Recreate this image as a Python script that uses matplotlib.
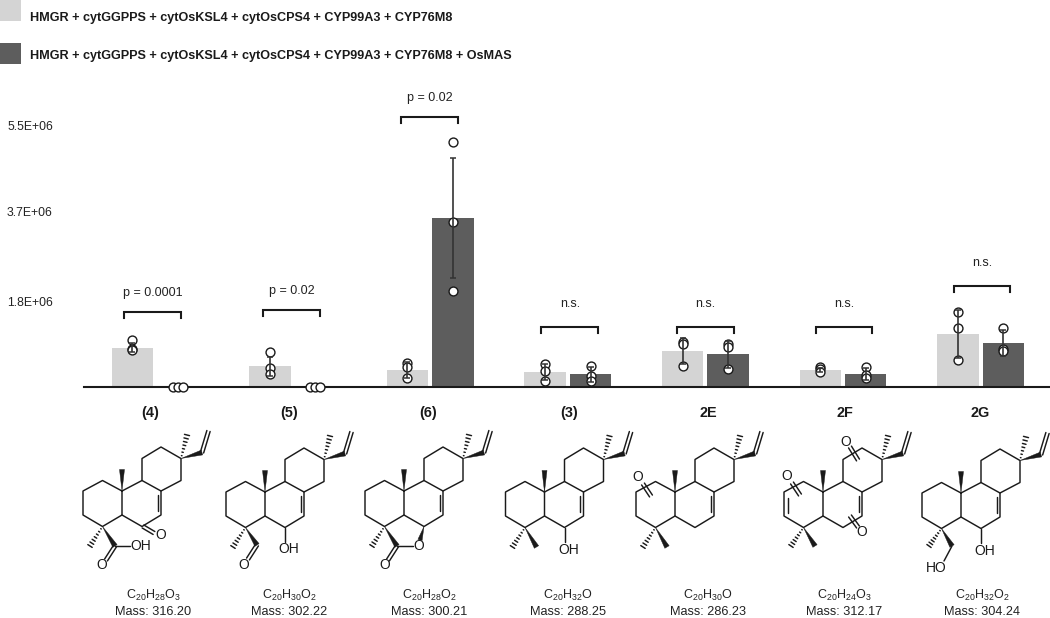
# -*- coding: utf_8 -*-
import numpy as np
import matplotlib
matplotlib.use('Agg')
import matplotlib.pyplot as plt

plt.rcParams['font.family'] = ['Liberation Sans', 'DejaVu Sans']
plt.rcParams['mathtext.fontset'] = 'custom'
plt.rcParams['mathtext.rm'] = 'Liberation Sans'

# data, in units of 1e6
compounds = ['(4)', '(5)', '(6)', '(3)', '2E', '2F', '2G']
ctrl_mean = [0.83, 0.44, 0.36, 0.32, 0.76, 0.36, 1.12]
ctrl_err = [0.10, 0.20, 0.16, 0.17, 0.28, 0.05, 0.50]
ctrl_pts = [[0.99, 0.80, 0.78], [0.74, 0.40, 0.27], [0.51, 0.42, 0.19], [0.48, 0.34, 0.13],
            [0.95, 0.91, 0.44], [0.42, 0.38, 0.32], [1.58, 1.24, 0.57]]
mas_mean = [0.0, 0.0, 3.56, 0.27, 0.69, 0.27, 0.93]
mas_err = [0.0, 0.0, 1.27, 0.16, 0.28, 0.12, 0.27]
mas_pts = [[0, 0, 0], [0, 0, 0], [5.16, 3.47, 2.02], [0.44, 0.23, 0.13],
           [0.91, 0.84, 0.38], [0.42, 0.25, 0.19], [1.24, 0.80, 0.76]]
sig_labels = ['p = 0.0001', 'p = 0.02', 'p = 0.02', 'n.s.', 'n.s.', 'n.s.', 'n.s.']
sig_height = [1.58, 1.62, 5.68, 1.26, 1.26, 1.26, 2.13]
tick_vals = [1.8, 3.7, 5.5]
tick_labels = ['1.8E+06', '3.7E+06', '5.5E+06']
legend_labels = ['HMGR + cytGGPPS + cytOsKSL4 + cytOsCPS4 + CYP99A3 + CYP76M8',
                 'HMGR + cytGGPPS + cytOsKSL4 + cytOsCPS4 + CYP99A3 + CYP76M8 + OsMAS']
formulas = ['C_{20}H_{28}O_{3}', 'C_{20}H_{30}O_{2}', 'C_{20}H_{28}O_{2}', 'C_{20}H_{32}O',
            'C_{20}H_{30}O', 'C_{20}H_{24}O_{3}', 'C_{20}H_{32}O_{2}']
masses = ['316.20', '302.22', '300.21', '288.25', '286.23', '312.17', '304.24']

LIGHT = '#d4d4d4'
DARK = '#5d5d5d'
INK = '#1a1a1a'

fig = plt.figure(figsize=(10.5, 6.18), dpi=100)
ax = fig.add_axes([84 / 1050, (618 - 387) / 618, 966 / 1050, 307 / 618])
ax.patch.set_alpha(0)
ax.set_xlim((84 - 155) / 137.6, (1050 - 155) / 137.6)
ax.set_ylim(0, 307 / 47.5)

x = np.arange(len(compounds))
off = 0.165
ax.bar(x - off, ctrl_mean, 0.302, color=LIGHT, zorder=1)
ax.bar(x + off, mas_mean, 0.302, color=DARK, zorder=1)

spread = [-0.037, 0, 0.037]
for i in range(len(compounds)):
    for j in range(3):
        ax.plot(x[i] - off, ctrl_pts[i][j], 'o', ms=6.4, mfc='white', mec=INK, mew=1,
                zorder=3, clip_on=False)
        dx = spread[j] if mas_mean[i] == 0 else 0
        ax.plot(x[i] + off + dx, mas_pts[i][j], 'o', ms=6.4, mfc='white', mec=INK, mew=1,
                zorder=3, clip_on=False)
    ax.errorbar(x[i] - off, ctrl_mean[i], yerr=ctrl_err[i], color='#333333', lw=1.2, capsize=2.2,
                capthick=1.1, zorder=4)
    if mas_mean[i] > 0:
        ax.errorbar(x[i] + off, mas_mean[i], yerr=mas_err[i], color='#333333', lw=1.2, capsize=2.2,
                    capthick=1.1, zorder=4, clip_on=False)

# significance brackets
sig_shift = [-0.018, -0.008, -0.004, 0.014, 0.0, 0.007, 0.011]
for i in range(len(compounds)):
    cx = x[i] + sig_shift[i]
    h = sig_height[i]
    ax.plot([cx - 0.206, cx - 0.206, cx + 0.206, cx + 0.206], [h - 0.13, h, h, h - 0.13],
            color=INK, lw=1.5, solid_joinstyle='miter', clip_on=False)
    ax.text(cx, h + 0.40 if i < 3 else h + 0.48, sig_labels[i], ha='center', va='center', fontsize=9,
            color='#222222')

for s in ['left', 'right', 'top']:
    ax.spines[s].set_visible(False)
ax.spines['bottom'].set_linewidth(1.5)
ax.spines['bottom'].set_color(INK)
ax.spines['bottom'].set_zorder(2)
ax.set_yticks(tick_vals)
ax.set_yticklabels(tick_labels, fontsize=8.8, color='#222222')
ax.tick_params(axis='y', length=0, pad=22.5)
# compound names sit a little off the group centres
name_shift = [-0.036, -0.025, -0.015, 0.010, 0.018, 0.015, 0.0]
ax.set_xticks(x + np.array(name_shift))
ax.set_xticklabels(compounds, fontsize=10.4, fontweight='bold', color=INK)
ax.tick_params(axis='x', length=0, pad=14)

# pixel overlay for the legend and the structures
pix = fig.add_axes([0, 0, 1, 1])
pix.set_xlim(0, 1050)
pix.set_ylim(618, 0)
pix.axis('off')
pix.patch.set_alpha(0)

pix.fill([0, 21, 21, 0], [0, 0, 21, 21], color=LIGHT, lw=0)
pix.fill([0, 21, 21, 0], [43, 43, 64, 64], color=DARK, lw=0)
pix.text(30, 17.5, legend_labels[0], fontsize=9.08, fontweight='bold', color=INK, va='center')
pix.text(30, 55.5, legend_labels[1], fontsize=9.08, fontweight='bold', color=INK, va='center')


class Mol:
    def __init__(self, ox, oy):
        self.ox, self.oy = ox, oy

    def bond(self, *pts):
        xs = [self.ox + p[0] for p in pts]
        ys = [self.oy + p[1] for p in pts]
        pix.plot(xs, ys, color=INK, lw=1.05, solid_capstyle='round', solid_joinstyle='round')

    def wedge(self, a, b, w=2.5):
        a, b = np.array(a, float), np.array(b, float)
        n = np.array([-(b - a)[1], (b - a)[0]])
        n = n / np.hypot(*n) * w
        pix.fill([self.ox + a[0], self.ox + b[0] + n[0], self.ox + b[0] - n[0]],
                 [self.oy + a[1], self.oy + b[1] + n[1], self.oy + b[1] - n[1]], color=INK, lw=0.3)

    def hash(self, a, b, w=2.6, count=7):
        a, b = np.array(a, float), np.array(b, float)
        n = np.array([-(b - a)[1], (b - a)[0]])
        n = n / np.hypot(*n)
        for t in np.linspace(0.12, 1, count):
            c = a + (b - a) * t
            self.bond(c - n * w * t, c + n * w * t)

    def double(self, a, b, gap=1.7):
        a, b = np.array(a, float), np.array(b, float)
        n = np.array([-(b - a)[1], (b - a)[0]])
        n = n / np.hypot(*n) * gap
        self.bond(a + n, b + n)
        self.bond(a - n, b - n)

    def label(self, px, py, s):
        pix.text(self.ox + px, self.oy + py, s, fontsize=10, ha='center', va='center', color=INK)

    def skeleton(self):
        # three fused rings, vinyl and the two methyls at C13 and C10
        self.bond((0, 0), (-19.5, -10.5), (-39, 0), (-39, 24), (-19.5, 35.5), (0, 24), (0, 0))
        self.bond((0, 0), (20, -10.5), (39, 0), (39, 24), (20, 35.5), (0, 24))
        self.bond((20, -10.5), (20, -32.5), (39, -44), (59, -32.5), (59, -10.5), (39, 0))
        self.bond((35.5, 4), (35.5, 20))
        self.wedge((0, 0), (0, -21.5))
        self.wedge((59, -32.5), (80, -38.5))
        self.hash((59, -32.5), (65, -56))
        self.double((80, -38.5), (86.5, -60))


m = Mol(122, 491)
m.skeleton()
m.hash((-19.5, 35.5), (-32, 55))
m.wedge((-19.5, 35.5), (-7, 55))
m.double((-7, 55), (-16, 69))
m.bond((-7, 55), (8, 55))
m.label(19, 55, 'OH')
m.label(-20, 74, 'O')
m.double((21, 35.5), (32, 42))
m.label(39, 44, 'O')

m = Mol(265, 492)
m.skeleton()
m.hash((-19.5, 35.5), (-32, 55))
m.wedge((-19.5, 35.5), (-8, 53))
m.double((-8, 53), (-17, 67))
m.label(-21, 73, 'O')
m.bond((20, 35.5), (20, 50))
m.label(24, 57, 'OH')

m = Mol(404, 491)
m.skeleton()
m.hash((-19.5, 35.5), (-32, 55))
m.wedge((-19.5, 35.5), (-7, 55))
m.double((-7, 55), (-16, 69))
m.label(-19, 74, 'O')
m.bond((-7, 55), (9, 55))
m.wedge((20, 35.5), (16, 49), w=2.2)
m.label(15, 55, 'O')

m = Mol(544.5, 492)
m.skeleton()
m.hash((-19.5, 35.5), (-32, 55))
m.wedge((-19.5, 35.5), (-8, 55))
m.bond((20, 35.5), (20, 50))
m.label(24, 58, 'OH')

m = Mol(675, 492)
m.skeleton()
m.hash((-19.5, 35.5), (-32, 55))
m.wedge((-19.5, 35.5), (-8, 55))
m.double((-32, -8), (-24, 4))
m.label(-37, -15, 'O')

m = Mol(823, 492)
m.skeleton()
m.bond((-35.5, 6), (-35.5, 21))
m.hash((-19.5, 35.5), (-32, 54))
m.wedge((-19.5, 35.5), (-8, 54))
m.double((-31, -9), (-23, 3))
m.label(-36, -16, 'O')
m.double((27, -45), (35, -32))
m.label(23, -50, 'O')
m.double((27, 24), (35, 35))
m.label(39, 40, 'O')

m = Mol(961, 493)
m.skeleton()
m.hash((-19.5, 35.5), (-32, 53))
m.wedge((-19.5, 35.5), (-9, 53))
m.bond((-9, 53), (-17, 68))
m.label(-25, 75, 'HO')
m.bond((20, 35.5), (20, 50))
m.label(24, 58, 'OH')

# formula and mass captions
label_x = [153, 289, 429.5, 568, 708, 844.5, 982]
for i in range(len(compounds)):
    pix.text(label_x[i], 595, '$\\mathrm{' + formulas[i] + '}$', fontsize=9, ha='center', va='center',
             color='#222222')
    pix.text(label_x[i], 612, 'Mass: ' + masses[i], fontsize=9.15, ha='center', va='center', color='#222222')

fig.savefig('out.png', dpi=100)
